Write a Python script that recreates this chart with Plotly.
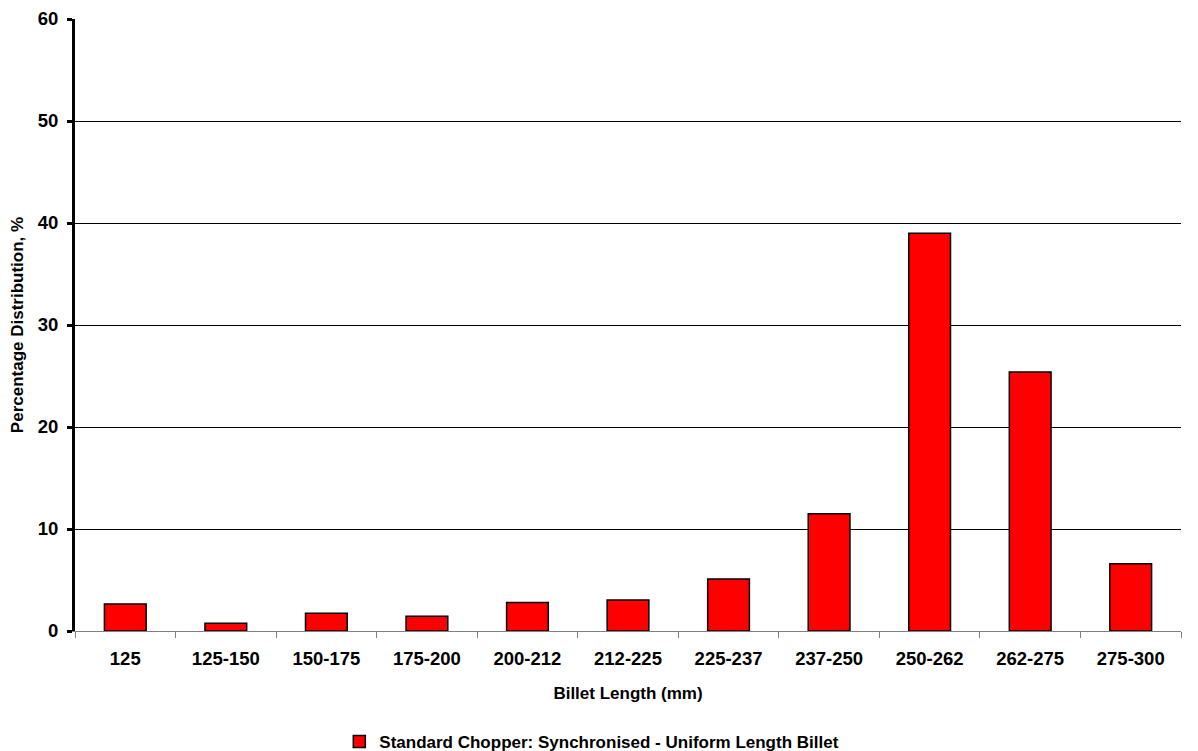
import plotly.graph_objects as go

# Billet length bins and the share of billets falling in each
length_bins = ["125", "125-150", "150-175", "175-200", "200-212", "212-225",
               "225-237", "237-250", "250-262", "262-275", "275-300"]
share_pct = [2.65, 0.75, 1.75, 1.45, 2.8, 3.05, 5.1, 11.5, 39.0, 25.4, 6.6]
series_name = "Standard Chopper: Synchronised - Uniform Length Billet"
y_ticks = [0, 10, 20, 30, 40, 50, 60]

font_family = "Liberation Sans, Arial, sans-serif"
tick_font = dict(family=font_family, size=18.5, color="black", weight="bold")
title_font = dict(family=font_family, size=17, color="black", weight="bold")

fig = go.Figure()
fig.add_trace(go.Bar(
    x=length_bins,
    y=share_pct,
    name=series_name,
    marker=dict(color="#FF0000", line=dict(color="#000000", width=1.5)),
    showlegend=True,
))

fig.update_layout(
    width=1198,
    height=751,
    margin=dict(l=75, r=17, t=19, b=120, autoexpand=False),
    paper_bgcolor="white",
    plot_bgcolor="white",
    bargap=0.585,
    font=dict(family=font_family, size=13, color="black"),
    showlegend=True,
    legend=dict(
        orientation="h",
        xref="container", yref="container",
        x=0.494, xanchor="center",
        y=0.036, yanchor="top",
        font=dict(family=font_family, size=17, color="black", weight="bold"),
        itemwidth=30,
        bgcolor="rgba(0,0,0,0)",
    ),
    xaxis=dict(
        type="category",
        automargin=False,
        tickson="boundaries",
        ticks="outside",
        ticklen=6,
        tickcolor="#808080",
        tickwidth=1,
        ticklabelstandoff=11,
        showline=True,
        linecolor="#808080",
        linewidth=1,
        showgrid=False,
        tickfont=tick_font,
        title=dict(text="Billet Length (mm)", font=title_font, standoff=18),
    ),
    yaxis=dict(
        range=[0, 60],
        automargin=False,
        tickvals=y_ticks,
        ticktext=[str(v) for v in y_ticks],
        ticks="outside",
        ticklen=5,
        tickcolor="black",
        tickwidth=3,
        ticklabelstandoff=5,
        showline=True,
        linecolor="black",
        linewidth=3,
        showgrid=True,
        gridcolor="#000000",
        gridwidth=1,
        zeroline=False,
        tickfont=tick_font,
        title=dict(text="Percentage Distribution, %", font=title_font, standoff=10),
    ),
)

fig.write_html("out.html")
